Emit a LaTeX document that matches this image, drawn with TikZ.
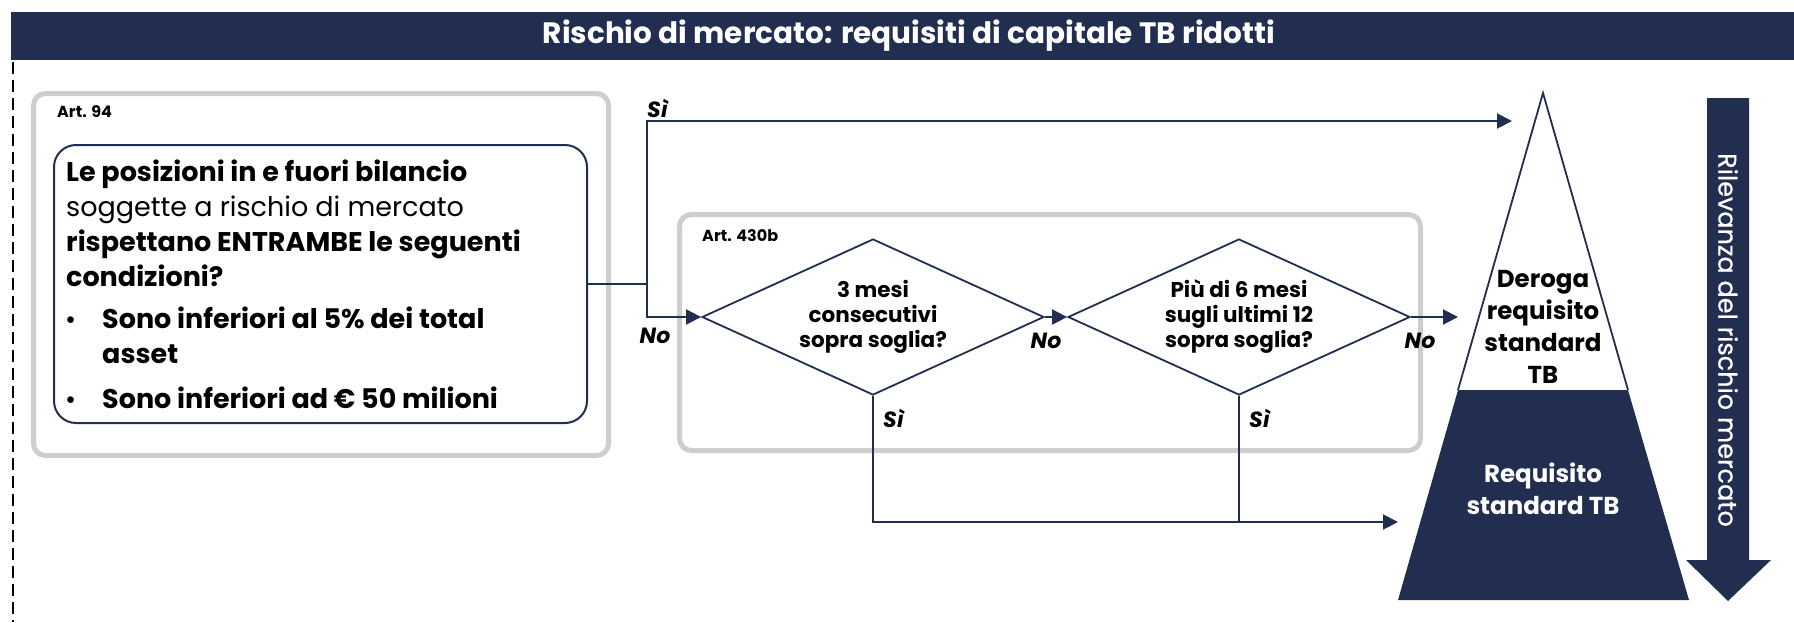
\documentclass[tikz,border=0pt]{standalone}
\usepackage{fontspec}
\setmainfont{Poppins}
\usetikzlibrary{arrows.meta,shapes.geometric}
\definecolor{navy}{RGB}{33,46,80}
\definecolor{boxgray}{RGB}{206,206,206}
\begin{document}
\begin{tikzpicture}[x=1pt,y=-1pt,
  graybox/.style={draw=boxgray, line width=5pt, rounded corners=12pt, inner sep=0pt},
  conn/.style={draw=navy, line width=2pt},
  arr/.style={conn, -{Triangle[length=15pt,width=15pt]}},
  lab/.style={font=\fontsize{22}{26}\selectfont\bfseries\itshape, inner sep=0pt},
  art/.style={font=\fontsize{16}{19}\selectfont\bfseries, inner sep=0pt, anchor=west},
  dia/.style={diamond, draw=navy, line width=1.8pt, minimum width=342pt, minimum height=156pt, inner sep=0pt},
  diatext/.style={font=\fontsize{21.5}{25}\selectfont\bfseries, align=center},
  body/.style={font=\fontsize{27}{35}\selectfont, inner sep=0pt, anchor=base west},
  pyr/.style={font=\fontsize{24.5}{32}\selectfont\bfseries, align=center, inner sep=0pt}
]
\useasboundingbox (0,0) rectangle (1794,622);
% title bar
\fill[navy] (11,12) rectangle (1794,60);
\node[font=\fontsize{29.5}{32}\selectfont\bfseries, text=white] (title) at (909,36) {Rischio di mercato: requisiti di capitale TB ridotti};
% dashed left border
\draw[black, line width=2.2pt, dash pattern=on 12pt off 6pt] (13,62) -- (13,622);
% Art. 94
\node[graybox, minimum width=575pt, minimum height=362pt, anchor=north west] (art94) at (31,91) {};
\node[art] (a94) at (57,112) {Art. 94};
\node[draw=navy, line width=2pt, rounded corners=22pt, minimum width=533pt, minimum height=278pt, anchor=north west, inner sep=0pt] (q) at (53,144) {};
\node[body] (l1) at (66,181) {\bfseries Le posizioni in e fuori bilancio};
\node[body] (l2) at (66,216) {soggette a rischio di mercato};
\node[body] (l3) at (66,251) {\bfseries rispettano ENTRAMBE le seguenti};
\node[body] (l4) at (66,286) {\bfseries condizioni?};
\node[body, font=\fontsize{22}{35}\selectfont] (b1) at (65,327) {\bfseries •};
\node[body] (l5) at (102,328) {\bfseries Sono inferiori al 5\% dei total};
\node[body] (l6) at (102,363) {\bfseries asset};
\node[body, font=\fontsize{22}{35}\selectfont] (b2) at (65,407) {\bfseries •};
\node[body] (l7) at (102,408) {\bfseries Sono inferiori ad € 50 milioni};
% Art. 430b
\node[graybox, minimum width=741pt, minimum height=236pt, anchor=north west] (art430) at (677,212) {};
\node[art] (a430) at (702,236) {Art. 430b};
\node[dia] (d1) at (873,317) {};
\node[diatext] (t1) at (873,317) {3 mesi\\consecutivi\\sopra soglia?};
\node[dia] (d2) at (1239,317) {};
\node[diatext] (t2) at (1239,317) {Più di 6 mesi\\sugli ultimi 12\\sopra soglia?};
% coordinates
\path (q.east) ++(59,0) coordinate (j);
\coordinate (tsi) at (1512,121);
\coordinate (tno) at (1458,317);
\coordinate (tbot) at (1398,522);
% connectors
\draw[conn] (q.east) -- (j);
\draw[arr] (j) |- (tsi);
\draw[arr] (j) |- (d1.west);
\draw[arr] (d1.east) -- (d2.west);
\draw[arr] (d2.east) -- (tno);
\draw[arr] (d1.south) |- (tbot);
\draw[conn] (d2.south) -- (d2.south |- tbot);
% labels
\node[lab, anchor=south west] (s0) at (647,118) {Sì};
\node[lab] (n0) at (655,336) {No};
\node[lab] (n1) at (1046,341) {No};
\node[lab] (n2) at (1420,341) {No};
\node[lab, anchor=west] (s1) at (883,418) {Sì};
\node[lab, anchor=west] (s2) at (1249,418) {Sì};
% pyramid
\coordinate (apex) at (1543,93);
\coordinate (bl) at (1398,600);
\coordinate (br) at (1689,600);
\coordinate (ml) at (1458,390);
\coordinate (mr) at (1628,390);
\fill[navy] (ml) -- (mr) -- (br) -- (bl) -- cycle;
\draw[navy, line width=1.8pt, line join=miter] (ml) -- (apex) -- (mr);
\draw[navy, line width=1pt] (ml) -- (mr);
\node[pyr] (p1) at (1543,327) {Deroga\\requisito\\standard\\TB};
\node[pyr, text=white] (p2) at (1543,489) {Requisito\\standard TB};
% right arrow
\fill[navy] (1707,98) -- (1749,98) -- (1749,560) -- (1771,560) -- (1728,601) -- (1686,560) -- (1707,560) -- cycle;
\node[rotate=-90, text=white, font=\fontsize{25.5}{28}\selectfont\addfontfeatures{FakeBold=0.6}] (rr) at (1728,340) {Rilevanza del rischio mercato};
\end{tikzpicture}
\end{document}
